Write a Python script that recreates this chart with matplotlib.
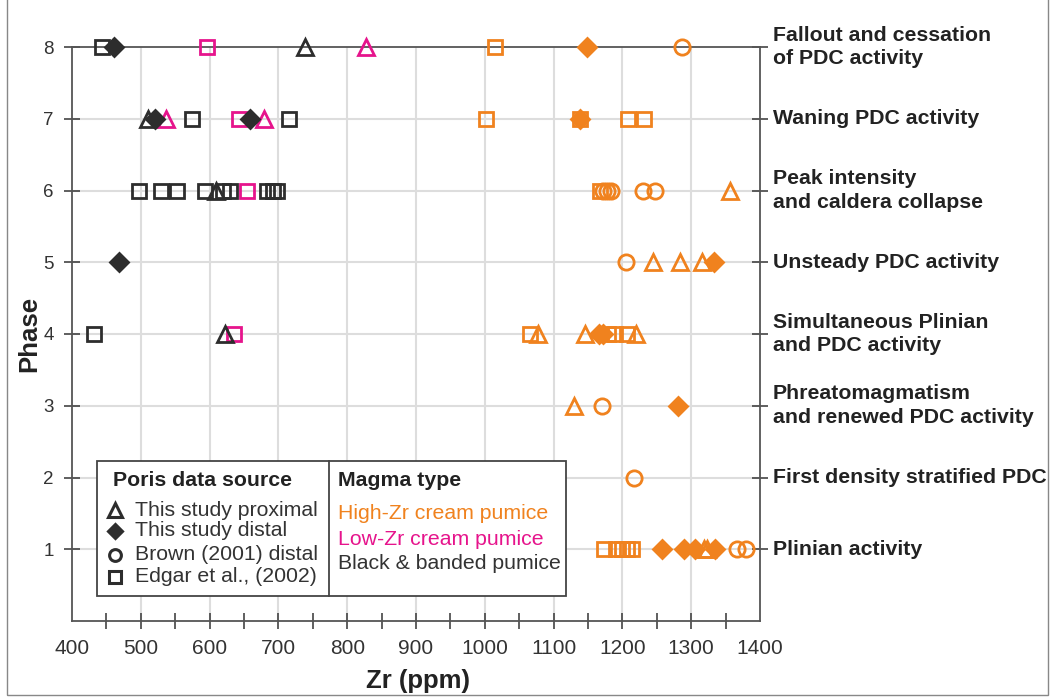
import matplotlib
matplotlib.use('Agg')
import matplotlib.pyplot as plt
from matplotlib.patches import Rectangle
import matplotlib.transforms as mtransforms

plt.rcParams['font.family'] = ['Liberation Sans', 'DejaVu Sans']

ORANGE = '#F0821E'
MAGENTA = '#E6148C'
BLACK = '#2D2D2D'

# (Zr ppm, phase) per data source and magma type
black_prox = [(738, 8), (510, 7), (609, 6), (623, 4)]
black_dist = [(461, 8), (521, 7), (658, 7), (468, 5)]
black_edgar = [(443, 8), (575, 7), (716, 7), (497, 6), (530, 6), (553, 6), (593, 6),
               (619, 6), (629, 6), (683, 6), (692, 6), (698, 6), (432, 4)]

low_prox = [(828, 8), (536, 7), (679, 7)]
low_edgar = [(596, 8), (643, 7), (654, 6), (635, 4)]

high_prox = [(1356, 6), (1244, 5), (1284, 5), (1316, 5), (1078, 4), (1145, 4), (1220, 4),
             (1130, 3), (1318, 1), (1323, 1)]
high_dist = [(1149, 8), (1139, 7), (1333, 5), (1166, 4), (1172, 4), (1281, 3),
             (1258, 1), (1289, 1), (1305, 1), (1335, 1)]
high_brown = [(1286, 8), (1172, 6), (1177, 6), (1183, 6), (1230, 6), (1247, 6), (1205, 5),
              (1171, 3), (1217, 2), (1367, 1), (1380, 1)]
high_edgar = [(1015, 8), (1002, 7), (1139, 7), (1208, 7), (1232, 7), (1167, 6), (1066, 4),
              (1179, 4), (1189, 4), (1206, 4), (1173, 1), (1190, 1), (1199, 1), (1206, 1), (1214, 1)]

phase_labels = ['Plinian activity', 'First density stratified PDC',
                'Phreatomagmatism\nand renewed PDC activity',
                'Simultaneous Plinian\nand PDC activity', 'Unsteady PDC activity',
                'Peak intensity\nand caldera collapse', 'Waning PDC activity',
                'Fallout and cessation\nof PDC activity']
source_labels = ['This study proximal', 'This study distal', 'Brown (2001) distal',
                 'Edgar et al., (2002)']
magma_labels = ['High-Zr cream pumice', 'Low-Zr cream pumice', 'Black & banded pumice']

fig = plt.figure(figsize=(10.53, 6.98), dpi=100)
ax = fig.add_axes([72 / 1053, 1 - 621 / 698, 688 / 1053, 574 / 698])

for v in range(500, 1301, 100):
    ax.axvline(v, color='#dddddd', lw=1.5, zorder=0)
for v in range(1, 8):
    ax.axhline(v, color='#dddddd', lw=1.5, zorder=0)


def draw(pts, marker, color, ms, filled=False):
    xs = [p[0] for p in pts]
    ys = [p[1] for p in pts]
    ax.plot(xs, ys, linestyle='none', marker=marker, ms=ms, mew=2.0,
            mec=color, mfc=color if filled else 'none', clip_on=False, zorder=3)


draw(black_edgar, 's', BLACK, 10.5)
draw(low_edgar, 's', MAGENTA, 10.5)
draw(high_edgar, 's', ORANGE, 10.5)
draw(high_brown, 'o', ORANGE, 11)
draw(black_prox, '^', BLACK, 12)
draw(low_prox, '^', MAGENTA, 12)
draw(high_prox, '^', ORANGE, 12)
draw(black_dist, 'D', BLACK, 9, filled=True)
draw(high_dist, 'D', ORANGE, 9, filled=True)

ax.set_xlim(400, 1400)
ax.set_ylim(0, 8)

xt = list(range(400, 1401, 50))
ax.set_xticks(xt)
ax.set_xticklabels([str(v) if v % 100 == 0 else '' for v in xt], fontsize=15, color='#333333')
ax.tick_params(axis='x', direction='inout', length=12, width=1.2, color='#444444', pad=7)
ticks = ax.xaxis.get_major_ticks()
ticks[0].tick1line.set_visible(False)
ticks[-1].tick1line.set_visible(False)

ax.set_yticks(range(1, 9))
ax.tick_params(axis='y', direction='inout', length=12, width=1.2, color='#444444',
               right=True, labelsize=13.5, labelcolor='#333333', pad=7)

for s in ax.spines.values():
    s.set_color('#555555')
    s.set_linewidth(1.3)

ax.set_xlabel('Zr (ppm)', fontsize=18.5, fontweight='bold', color='#222222')
ax.xaxis.set_label_coords(0.503, -0.083)
ax.set_ylabel('Phase', fontsize=18.5, fontweight='bold', color='#222222')
ax.yaxis.set_label_coords(-0.045, 0.5)

trans = mtransforms.blended_transform_factory(ax.transAxes, ax.transData)
for i, lab in enumerate(phase_labels):
    ax.text(1.019, i + 1, lab, transform=trans, ha='left', va='center', fontsize=15.3,
            fontweight='bold', color='#222222', linespacing=1.32)

# legend box
ax.add_patch(Rectangle((0.0363, 0.0436), 0.6817, 0.2354, transform=ax.transAxes,
                       facecolor='white', edgecolor='#444444', lw=1.3, zorder=5))
ax.plot([0.3735, 0.3735], [0.0436, 0.279], transform=ax.transAxes, color='#444444',
        lw=1.3, zorder=6)
ax.text(0.0596, 0.2456, 'Poris data source', transform=ax.transAxes, fontsize=15.3,
        fontweight='bold', color='#222222', va='center', zorder=6)
ax.text(0.3866, 0.2456, 'Magma type', transform=ax.transAxes, fontsize=15.3,
        fontweight='bold', color='#222222', va='center', zorder=6)
leg_markers = [('^', False), ('D', True), ('o', False), ('s', False)]
leg_rows = [0.193, 0.157, 0.115, 0.077]
for (m, f), lab, yy in zip(leg_markers, source_labels, leg_rows):
    ax.plot([0.0625], [yy], transform=ax.transAxes, linestyle='none', marker=m,
            ms=9.5 if m == '^' else (7 if m == 'D' else 8.5), mew=2.2, mec=BLACK,
            mfc=BLACK if f else 'none', zorder=6)
    ax.text(0.0916, yy, lab, transform=ax.transAxes, fontsize=15.3, color='#333333',
            va='center', zorder=6)
for lab, c, yy in zip(magma_labels, [ORANGE, MAGENTA, '#333333'], [0.187, 0.142, 0.101]):
    ax.text(0.3866, yy, lab, transform=ax.transAxes, fontsize=15.3, color=c,
            va='center', zorder=6)

# outer figure border
fig.add_artist(Rectangle((7 / 1053, 3 / 698), 1041 / 1053, 700 / 698, transform=fig.transFigure,
                         facecolor='none', edgecolor='#888888', lw=1))

fig.savefig('out.png', dpi=100)
